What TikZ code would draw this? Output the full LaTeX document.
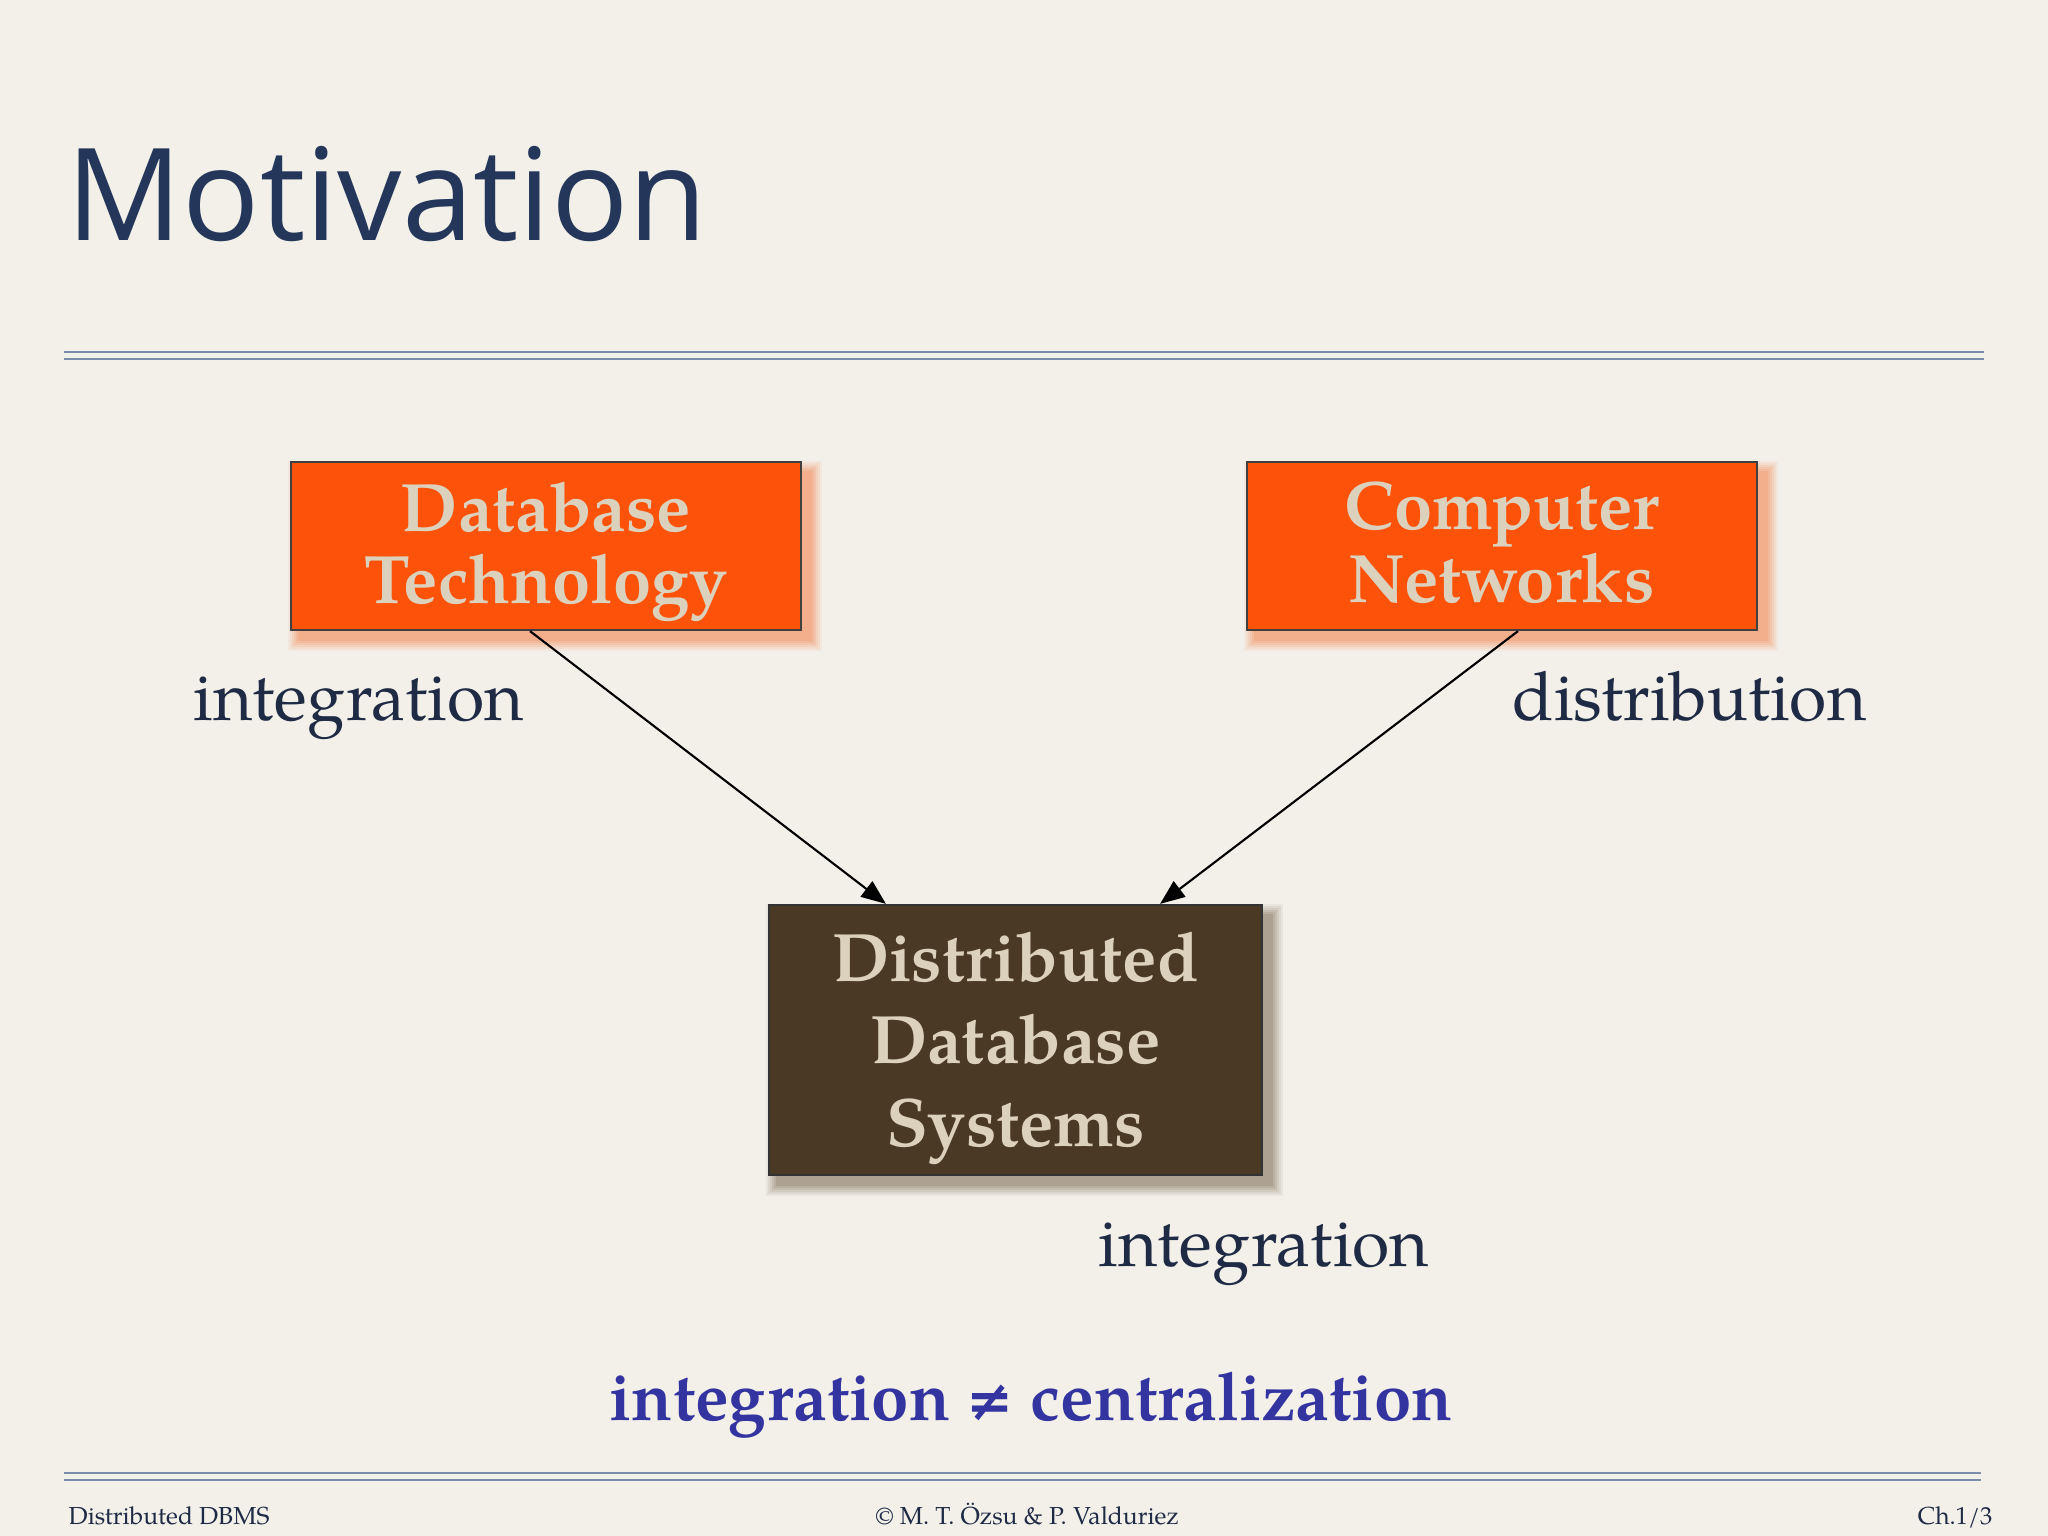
\documentclass[tikz,border=0pt]{standalone}
\usepackage{fontspec}
\usetikzlibrary{arrows.meta}
\newfontfamily\titlefont{Open Sans}
\newfontfamily\pal{TeX Gyre Pagella}
\newfontfamily\dvs{DejaVu Serif}
\definecolor{bgc}{HTML}{F2F0E9}
\definecolor{titlec}{HTML}{24375A}
\definecolor{rulec}{HTML}{7B8FAD}
\definecolor{orangec}{HTML}{FC5209}
\definecolor{brownc}{HTML}{4A3925}
\definecolor{beige}{HTML}{DCD1BC}
\definecolor{labelc}{HTML}{1F2A44}
\definecolor{bluec}{HTML}{3434A0}
\definecolor{oshadow}{HTML}{F7824C}
\definecolor{bshadow}{HTML}{7E6E55}
\tikzset{
  rule/.style={draw=rulec, line width=0.6pt},
  obox/.style={draw=black!75, line width=0.6pt, fill=orangec, minimum width=5.10cm, minimum height=1.68cm, inner sep=0pt},
  dbox/.style={draw=black!80, line width=0.6pt, fill=brownc, minimum width=4.93cm, minimum height=2.70cm, inner sep=0pt},
  otext/.style={text=beige, align=center, inner sep=0pt, font=\pal\bfseries\fontsize{19.5}{20.7}\selectfont},
  dtext/.style={text=beige, align=center, inner sep=0pt, font=\pal\bfseries\fontsize{19.5}{23.5}\selectfont},
  lbl/.style={text=labelc, inner sep=0pt, font=\pal\fontsize{19.3}{22}\selectfont},
  foot/.style={text=labelc, inner sep=0pt, font=\pal\fontsize{7}{8}\selectfont},
  arr/.style={draw=black, line width=0.6pt, -{Triangle[length=7pt,width=5.5pt]}},
}
\newcommand\softshadow[5]{% x1 y1 x2 y2 color
  \foreach \r/\o in {11/0.08,9/0.10,7/0.12,5/0.14,3/0.16,1/0.2}{
    \fill[#5, opacity=\o] (#1-\r,#2-\r) rectangle (#3+\r,#4+\r);
  }}
\begin{document}
\begin{tikzpicture}[x=0.01cm,y=-0.01cm]
\useasboundingbox (0,0) rectangle (2048,1536);
\fill[bgc] (0,0) rectangle (2048,1536);
% title
\node[anchor=base west, inner sep=0pt, text=titlec, font=\titlefont\fontsize{36.5}{40}\selectfont] (title) at (66,240) {Motivation};
% rules
\draw[rule] (64,352) -- (1984,352);
\draw[rule] (64,359) -- (1984,359);
\draw[rule] (64,1473) -- (1981,1473);
\draw[rule] (64,1480) -- (1981,1480);
% shadows
\softshadow{299}{472}{811}{640}{oshadow}
\softshadow{1255}{472}{1767}{640}{oshadow}
\softshadow{777}{915}{1272}{1185}{bshadow}
% boxes
\node[obox] (dbt) at (546,546) {};
\node[obox] (cn) at (1502,546) {};
\node[dbox] (ddbs) at (1015.5,1040) {};
\node[otext, anchor=north] (dbtt) at (546,481) {Database\\Technology};
\node[otext, anchor=north] (cnt) at (1502,481) {Computer\\Networks};
\node[dtext, anchor=north] (ddbst) at (1015.5,931) {Distributed\\Database\\Systems};
% arrows
\draw[arr] ([xshift=-0.16cm]dbt.south) -- ([xshift=-1.295cm]ddbs.north);
\draw[arr] ([xshift=0.16cm]cn.south) -- ([xshift=1.445cm]ddbs.north);
% labels
\node[lbl, anchor=base west] (l1) at (193,720) {integration};
\node[lbl, anchor=base west] (l2) at (1512,720) {distribution};
\node[lbl, anchor=base west] (l3) at (1098,1266) {integration};
\node[anchor=base, inner sep=0pt, text=bluec, font=\pal\bfseries\fontsize{19.1}{22}\selectfont] (motto) at (1031,1420) {integration {\dvs\bfseries\fontsize{16}{16}\selectfont ≠} centralization};
% footer
\node[foot, anchor=base west] (f1) at (68,1524) {Distributed DBMS};
\node[foot, anchor=base] (f2) at (1027,1524) {© M. T. Özsu \& P. Valduriez};
\node[foot, anchor=base east] (f3) at (1993,1524) {Ch.1/3};
\end{tikzpicture}
\end{document}
